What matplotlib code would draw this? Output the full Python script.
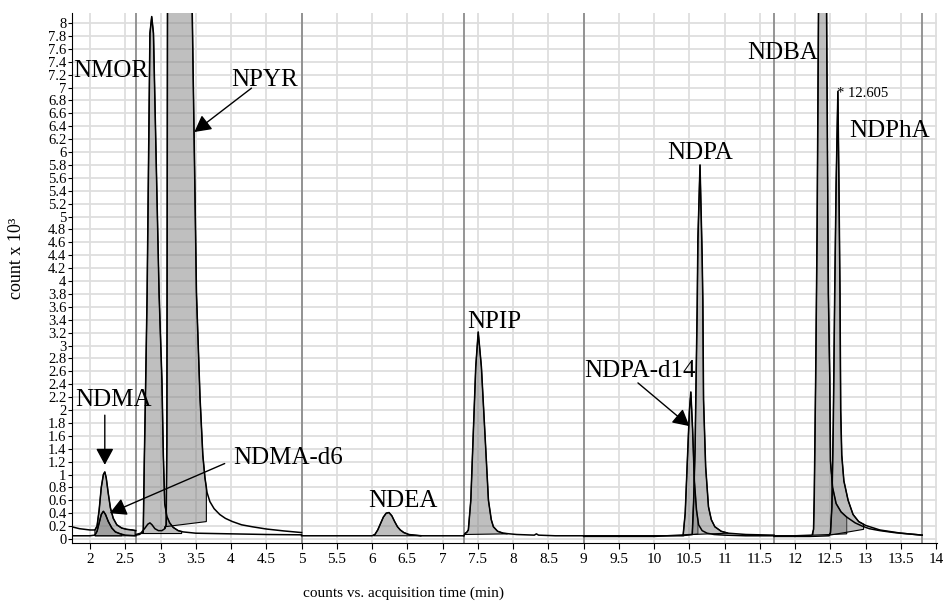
import numpy as np
import matplotlib
matplotlib.use("Agg")
import matplotlib.pyplot as plt
from matplotlib.patches import Polygon

plt.rcParams['font.family'] = ['Liberation Serif', 'DejaVu Serif']

# segment boundaries (min)
segment_edges = [2.65, 5.0, 7.3, 9.0, 11.7, 13.8]

# segment 1: NDMA / NDMA-d6
ndma_t = [1.74, 1.85, 2.00, 2.07, 2.10, 2.13, 2.16, 2.19, 2.21, 2.23, 2.26, 2.29, 2.33, 2.38, 2.45, 2.52, 2.60, 2.65]
ndma_y = [0.19, 0.16, 0.14, 0.14, 0.20, 0.45, 0.80, 1.00, 1.04, 0.95, 0.70, 0.48, 0.32, 0.22, 0.17, 0.15, 0.14, 0.13]
ndma_d6_t = [1.74, 2.00, 2.07, 2.10, 2.13, 2.16, 2.19, 2.22, 2.26, 2.31, 2.36, 2.43, 2.50, 2.65]
ndma_d6_y = [0.05, 0.05, 0.06, 0.12, 0.25, 0.38, 0.43, 0.38, 0.27, 0.17, 0.11, 0.08, 0.06, 0.05]

# segment 2: NMOR / NPYR
nmor_t = [2.65, 2.70, 2.73, 2.755, 2.77, 2.79, 2.81, 2.85, 2.875, 2.90, 2.94, 2.98, 3.02, 3.04,
          3.06, 3.09, 3.13, 3.18, 3.25, 3.32, 3.50, 4.00, 4.50, 5.00]
nmor_y = [0.06, 0.07, 0.09, 0.10, 1.20, 2.46, 3.80, 7.84, 8.10, 7.84, 5.80, 3.80, 2.46, 1.30,
          0.55, 0.35, 0.25, 0.18, 0.13, 0.11, 0.09, 0.08, 0.07, 0.065]
npyr_t = [2.65, 2.72, 2.78, 2.82, 2.85, 2.88, 2.92, 2.97, 3.02, 3.06, 3.08, 3.09, 3.10, 3.44,
          3.45, 3.51, 3.56, 3.60, 3.63, 3.66, 3.70, 3.76, 3.84, 3.92, 4.02, 4.15, 4.30, 4.50, 4.75, 5.00]
npyr_y = [0.07, 0.09, 0.17, 0.23, 0.25, 0.22, 0.16, 0.13, 0.13, 0.16, 0.22, 1.50, 9.00, 9.00,
          8.15, 3.80, 2.20, 1.30, 0.95, 0.72, 0.58, 0.47, 0.38, 0.32, 0.27, 0.22, 0.19, 0.155, 0.125, 0.10]

# segment 3: NDEA
ndea_t = [5.00, 5.50, 6.00, 6.04, 6.08, 6.12, 6.16, 6.20, 6.24, 6.28, 6.32, 6.36, 6.40, 6.45, 6.52, 6.60, 6.70, 7.00, 7.30]
ndea_y = [0.05, 0.05, 0.05, 0.07, 0.14, 0.24, 0.34, 0.40, 0.41, 0.36, 0.27, 0.19, 0.14, 0.10, 0.07, 0.06, 0.05, 0.05, 0.05]

# segment 4: NPIP
npip_t = [7.30, 7.32, 7.34, 7.365, 7.40, 7.435, 7.47, 7.505, 7.55, 7.60, 7.65, 7.69, 7.72, 7.78,
          7.86, 7.95, 8.05, 8.30, 8.33, 8.36, 8.60, 9.00]
npip_y = [0.05, 0.09, 0.10, 0.14, 0.60, 1.64, 2.67, 3.21, 2.67, 1.64, 0.60, 0.30, 0.19, 0.12,
          0.09, 0.08, 0.07, 0.06, 0.08, 0.06, 0.05, 0.05]

# segment 5: NDPA-d14 / NDPA
ndpa_d14_t = [9.00, 9.50, 10.00, 10.41, 10.44, 10.47, 10.50, 10.52, 10.545, 10.57, 10.60, 10.63,
              10.68, 10.75, 10.85, 11.00, 11.30, 11.70]
ndpa_d14_y = [0.05, 0.05, 0.05, 0.05, 0.40, 1.20, 2.00, 2.28, 1.70, 0.90, 0.45, 0.22,
              0.13, 0.09, 0.07, 0.06, 0.05, 0.05]
ndpa_t = [9.00, 10.00, 10.54, 10.56, 10.58, 10.59, 10.61, 10.62, 10.65, 10.68, 10.69, 10.70,
          10.73, 10.77, 10.81, 10.86, 10.95, 11.05, 11.30, 11.70]
ndpa_y = [0.04, 0.04, 0.07, 0.60, 1.40, 2.15, 3.60, 4.64, 5.80, 4.40, 3.70, 2.16,
          1.12, 0.50, 0.30, 0.19, 0.12, 0.09, 0.07, 0.06]

# segment 6: NDBA / NDPhA
ndba_t = [11.70, 12.00, 12.24, 12.26, 12.27, 12.29, 12.31, 12.33, 12.34, 12.44, 12.445, 12.47,
          12.49, 12.50, 12.53, 12.58, 12.65, 12.73, 12.85, 12.95, 13.05, 13.20, 13.40, 13.60, 13.80]
ndba_y = [0.05, 0.05, 0.06, 0.15, 0.66, 2.50, 4.74, 8.15, 9.50, 9.50, 8.15, 3.81,
          2.50, 1.20, 0.80, 0.55, 0.42, 0.34, 0.25, 0.20, 0.16, 0.13, 0.10, 0.08, 0.06]
ndpha_t = [11.70, 12.20, 12.48, 12.50, 12.52, 12.54, 12.56, 12.58, 12.605, 12.62, 12.635, 12.645,
           12.66, 12.69, 12.75, 12.82, 12.90, 13.00, 13.20, 13.50, 13.80]
ndpha_y = [0.04, 0.04, 0.05, 0.10, 0.50, 1.80, 3.81, 5.50, 6.94, 5.50, 3.81, 2.00,
           1.30, 0.90, 0.60, 0.38, 0.27, 0.21, 0.14, 0.09, 0.06]

traces = [(ndma_t, ndma_y), (ndma_d6_t, ndma_d6_y), (nmor_t, nmor_y), (npyr_t, npyr_y),
          (ndea_t, ndea_y), (npip_t, npip_y), (ndpa_d14_t, ndpa_d14_y), (ndpa_t, ndpa_y),
          (ndba_t, ndba_y), (ndpha_t, ndpha_y)]

# integrated areas: trace, start, end, baseline at start, baseline at end
areas = [
    (ndma_t, ndma_y, 2.07, 2.64, 0.05, 0.05),
    (ndma_d6_t, ndma_d6_y, 2.07, 2.45, 0.05, 0.05),
    (nmor_t, nmor_y, 2.74, 3.30, 0.085, 0.085),
    (npyr_t, npyr_y, 3.06, 3.65, 0.19, 0.27),
    (ndea_t, ndea_y, 6.02, 6.70, 0.05, 0.05),
    (npip_t, npip_y, 7.32, 7.92, 0.07, 0.08),
    (ndpa_d14_t, ndpa_d14_y, 10.41, 10.62, 0.05, 0.08),
    (ndpa_t, ndpa_y, 10.54, 11.05, 0.07, 0.09),
    (ndba_t, ndba_y, 12.25, 12.73, 0.06, 0.08),
    (ndpha_t, ndpha_y, 12.49, 12.97, 0.06, 0.15),
]

# labels: text, x, y, ha
labels = [("NMOR", 1.76, 7.26, 'left'), ("NPYR", 4.47, 7.11, 'center'),
          ("NDMA", 2.33, 2.15, 'center'), ("NDMA-d6", 4.03, 1.26, 'left'),
          ("NDEA", 6.43, 0.59, 'center'), ("NPIP", 7.73, 3.37, 'center'),
          ("NDPA", 10.65, 5.99, 'center'), ("NDPA-d14", 9.80, 2.61, 'center'),
          ("NDBA", 11.82, 7.54, 'center'), ("NDPhA", 13.34, 6.33, 'center')]

# arrows: (start, tip)
arrows = [((4.29, 6.99), (3.48, 6.31)),
          ((2.21, 1.92), (2.21, 1.15)),
          ((3.91, 1.17), (2.28, 0.40)),
          ((9.77, 2.42), (10.50, 1.75))]

fig = plt.figure(figsize=(9.45, 6.02), dpi=100)
ax = fig.add_axes([0.0762, 0.098, 0.9153, 0.8804])

ax.set_xlim(1.745, 14.01)
ax.set_ylim(-0.062, 8.155)

ax.set_xticks(np.arange(2, 14.01, 0.5))
ax.set_xticklabels(['%g' % v for v in np.arange(2, 14.01, 0.5)])
ax.set_yticks(np.arange(0, 8.001, 0.2))
ax.set_yticklabels(['%g' % round(v, 1) for v in np.arange(0, 8.001, 0.2)])
ax.tick_params(axis='x', labelsize=11, length=4, pad=3)
ax.tick_params(axis='y', labelsize=10.5, length=3, pad=1)
ax.grid(True, color='#dedede', lw=1.3)
ax.set_axisbelow(True)
for s in ['top', 'right']:
    ax.spines[s].set_visible(False)

for e in segment_edges:
    ax.axvline(e, color='#8c8c8c', lw=1.3, zorder=1.5)

for t, y, t0, t1, b0, b1 in areas:
    t = np.array(t)
    y = np.array(y)
    m = (t > t0) & (t < t1)
    xs = np.concatenate([[t0], t[m], [t1], [t1], [t0]])
    ys = np.concatenate([[np.interp(t0, t, y)], y[m], [np.interp(t1, t, y)], [b1], [b0]])
    ax.add_patch(Polygon(np.column_stack([xs, ys]), closed=True,
                         facecolor=(0.5, 0.5, 0.5, 0.5), edgecolor='black', lw=0.8, zorder=2))

for t, y in traces:
    ax.plot(t, y, color='black', lw=1.1, zorder=3)

for txt, x, y, ha in labels:
    ax.text(x, y, txt, fontsize=18, ha=ha, va='center', zorder=4)

ax.text(12.587, 6.90, "* 12.605", fontsize=10.5, ha='left', va='center', zorder=4)

for start, tip in arrows:
    ax.annotate('', xy=tip, xytext=start,
                arrowprops=dict(arrowstyle='-|>,head_length=0.5,head_width=0.27',
                                color='black', lw=1.0, mutation_scale=20, shrinkA=0, shrinkB=0),
                zorder=4)

fig.text(0.017, 0.571, "count x 10³", rotation=90, fontsize=13, ha='center', va='center')
fig.text(0.4275, 0.015, "counts vs. acquisition time (min)", fontsize=11, ha='center', va='center')

fig.savefig('out.png', dpi=100)
